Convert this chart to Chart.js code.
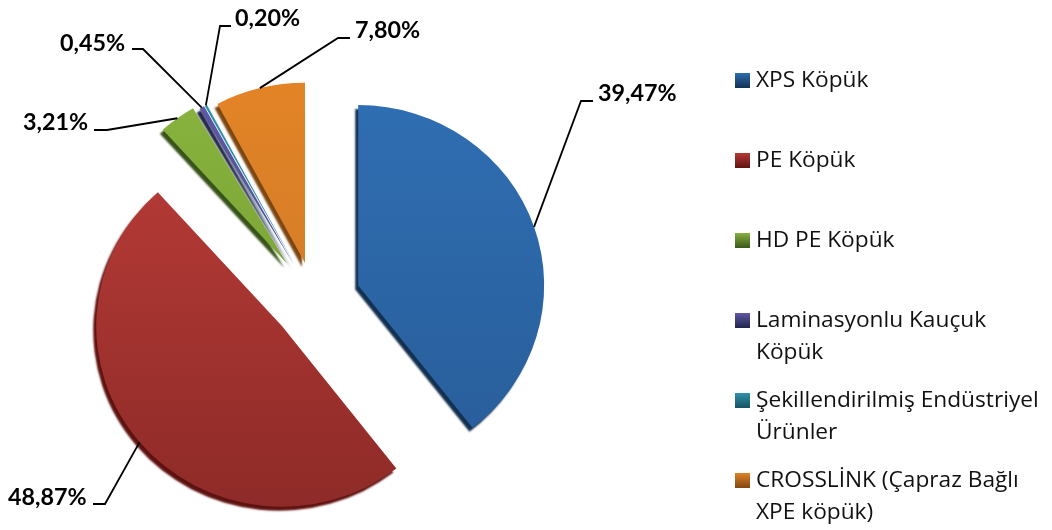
<!DOCTYPE html>
<html>
<head>
<meta charset="utf-8">
<script src="https://cdn.jsdelivr.net/npm/chart.js@4/dist/chart.umd.min.js"></script>
<style>
  html, body { margin: 0; padding: 0; background: #fff; overflow: hidden; }
  #wrap { position: relative; width: 1052px; height: 530px; }
</style>
</head>
<body>
<div id="wrap"><canvas id="chart"></canvas></div>
<script>
const categories = [
  ['XPS Köpük'],
  ['PE Köpük'],
  ['HD PE Köpük'],
  ['Laminasyonlu Kauçuk', 'Köpük'],
  ['Şekillendirilmiş Endüstriyel', 'Ürünler'],
  ['CROSSLİNK (Çapraz Bağlı', 'XPE köpük)']
];
const shares = [39.47, 48.87, 3.21, 0.45, 0.20, 7.80];
const shareLabels = ['39,47%', '48,87%', '3,21%', '0,45%', '0,20%', '7,80%'];

// slice colours, top of the pie to bottom, then the dark edge
const topColours = ['#2f6eb2', '#b83b37', '#8ab43e', '#5f5aa6', '#2f94ac', '#e38426'];
const bottomColours = ['#285c98', '#8c2a27', '#6f9a30', '#4a3f86', '#24788c', '#c9772a'];
const edges = ['#12304f', '#5e1210', '#38541a', '#1f2448', '#17505f', '#7d4610'];
// how far each slice is pulled out of the pie, px
const explode = [46, 42, 46, 42, 42, 39];
// the original pie is a bit flattened by its 3D view
const squashY = 0.975;
const squashX = 1.005;

// text left, text middle y, elbow of the leader, end of its short horizontal bit
const labelSpots = [
  { x: 598, y: 93, ex: 581, ey: 101, hx: 593 },
  { x: 8, y: 497, ex: 105, ey: 504, hx: 93 },
  { x: 23, y: 122, ex: 107, ey: 130, hx: 94 },
  { x: 60, y: 43, ex: 143, ey: 49, hx: 132 },
  { x: 235, y: 18, ex: 220, ey: 26, hx: 231 },
  { x: 355, y: 30, ex: 338, ey: 38, hx: 350 }
];

const legendFont = '22.7px "Open Sans"';
const valueFont = 'bold 23.3px Lato';

function midAngle(arc) {
  return (arc.startAngle + arc.endAngle) / 2;
}

const explodedSlices = {
  id: 'explodedSlices',
  beforeDatasetDraw(chart) {
    const ctx = chart.ctx;
    const arcs = chart.getDatasetMeta(0).data;
    // last slice first so a shadow never lands on the slice before it
    for (let i = arcs.length - 1; i >= 0; i--) {
      const arc = arcs[i];
      const mid = midAngle(arc);
      ctx.save();
      ctx.translate(arc.x, arc.y);
      ctx.scale(squashX, squashY);
      ctx.translate(-arc.x, -arc.y);
      ctx.translate(Math.cos(mid) * explode[i], Math.sin(mid) * explode[i]);
      ctx.shadowColor = edges[i];
      ctx.shadowBlur = 2;
      ctx.shadowOffsetX = -3;
      ctx.shadowOffsetY = 4;
      arc.draw(ctx);
      ctx.restore();
    }
    return false;
  }
};

const sliceLabels = {
  id: 'sliceLabels',
  afterDatasetsDraw(chart) {
    const ctx = chart.ctx;
    ctx.save();
    chart.getDatasetMeta(0).data.forEach((arc, i) => {
      const spot = labelSpots[i];
      const mid = midAngle(arc);
      const r = arc.outerRadius + explode[i];
      ctx.strokeStyle = '#000';
      ctx.lineWidth = 1.8;
      ctx.beginPath();
      ctx.moveTo(arc.x + Math.cos(mid) * r * squashX, arc.y + Math.sin(mid) * r * squashY);
      ctx.lineTo(spot.ex, spot.ey);
      ctx.lineTo(spot.hx, spot.ey);
      ctx.stroke();
      ctx.fillStyle = '#000';
      ctx.font = valueFont;
      ctx.textAlign = 'left';
      ctx.textBaseline = 'middle';
      ctx.fillText(shareLabels[i], spot.x, spot.y);
    });
    ctx.restore();
  }
};

const sideLegend = {
  id: 'sideLegend',
  afterDraw(chart) {
    const ctx = chart.ctx;
    ctx.save();
    categories.forEach((lines, i) => {
      const mid = 80.5 + i * 80;
      const grad = ctx.createLinearGradient(0, mid - 8, 0, mid + 8);
      grad.addColorStop(0, topColours[i]);
      grad.addColorStop(1, edges[i]);
      ctx.fillStyle = grad;
      ctx.fillRect(735, mid - 7.5, 15, 15);
      ctx.fillStyle = '#111';
      ctx.font = legendFont;
      ctx.textAlign = 'left';
      ctx.textBaseline = 'middle';
      lines.forEach((line, j) => ctx.fillText(line, 756, mid + j * 32));
    });
    ctx.restore();
  }
};

new Chart(document.getElementById('chart'), {
  type: 'pie',
  data: {
    labels: categories.map(c => c.join(' ')),
    datasets: [{
      data: shares,
      backgroundColor(c) {
        const grad = c.chart.ctx.createLinearGradient(0, 110, 0, 500);
        grad.addColorStop(0, topColours[c.dataIndex]);
        grad.addColorStop(1, bottomColours[c.dataIndex]);
        return grad;
      },
      borderWidth: 0,
      radius: 185
    }]
  },
  options: {
    responsive: true,
    maintainAspectRatio: false,
    animation: false,
    layout: { padding: { top: 70, right: 423 } },
    plugins: { legend: { display: false }, tooltip: { enabled: false } }
  },
  plugins: [explodedSlices, sliceLabels, sideLegend]
});
</script>
</body>
</html>
